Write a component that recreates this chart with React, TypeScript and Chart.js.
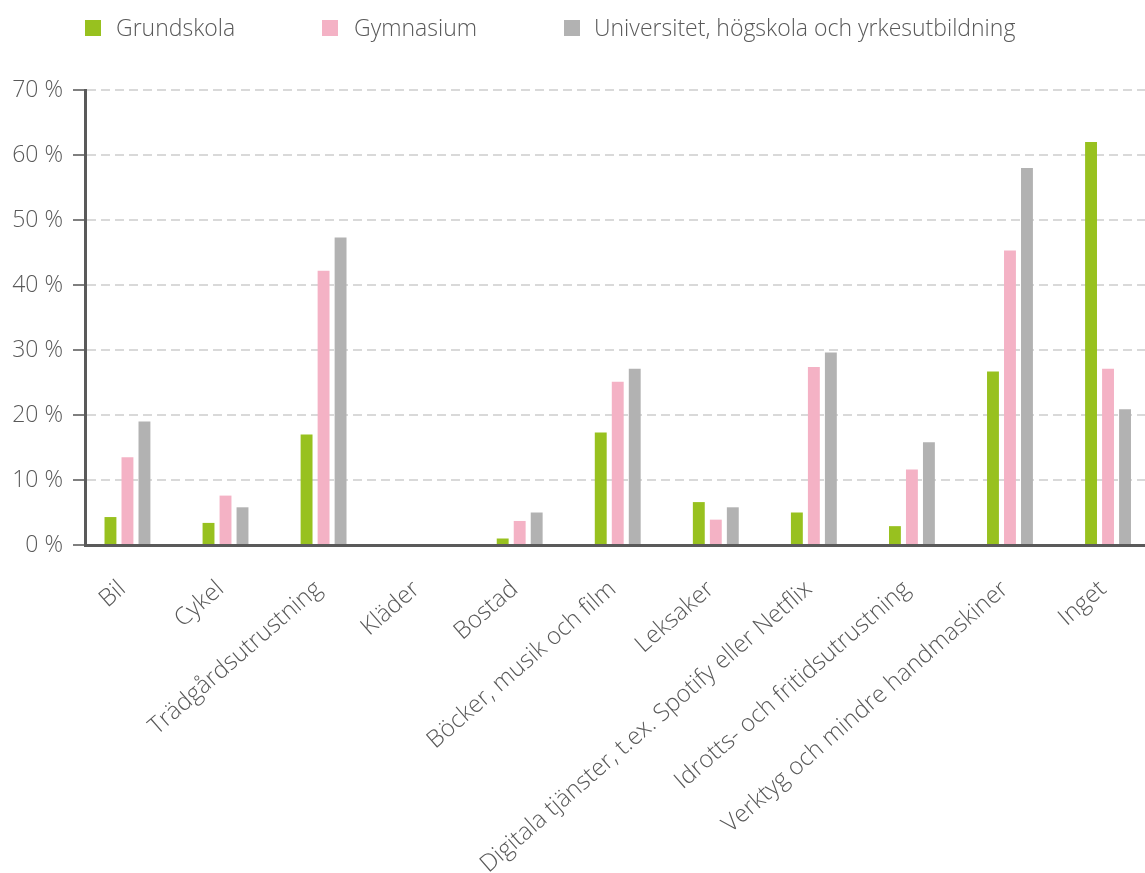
import React, { useEffect, useRef } from "react";
import { Chart, registerables } from "chart.js";

Chart.register(...registerables);

const categories = [
  "Bil",
  "Cykel",
  "Trädgårdsutrustning",
  "Kläder",
  "Bostad",
  "Böcker, musik och film",
  "Leksaker",
  "Digitala tjänster, t.ex. Spotify eller Netflix",
  "Idrotts- och fritidsutrustning",
  "Verktyg och mindre handmaskiner",
  "Inget",
];
const seriesNames = ["Grundskola", "Gymnasium", "Universitet, högskola och yrkesutbildning"];
const grundskola = [4.3, 3.4, 17.0, 0, 1.0, 17.3, 6.6, 5.0, 2.9, 26.7, 62.0];
const gymnasium = [13.5, 7.6, 42.2, 0, 3.7, 25.1, 3.9, 27.4, 11.6, 45.3, 27.1];
const universitet = [19.0, 5.8, 47.3, 0, 5.0, 27.1, 5.8, 29.6, 15.8, 58.0, 20.9];
const yMin = 0;
const yMax = 70;
const yStep = 10;

const colors = ["#98C11F", "#F4B2C5", "#B2B2B2"];
const textColor = "#595959";
const FONT = "'Open Sans', 'Noto Sans', sans-serif";

export default function App() {
  const ref = useRef<HTMLCanvasElement | null>(null);

  useEffect(() => {
    if (!ref.current) return;
    const allSeries = [grundskola, gymnasium, universitet];
    const chart = new Chart(ref.current, {
      type: "bar",
      data: {
        datasets: allSeries.map((vals, si) => ({
          label: seriesNames[si],
          data: vals.map((v, i) => ({ x: i, y: v })),
          backgroundColor: colors[si],
          borderWidth: 0,
          categoryPercentage: 0.52,
          barPercentage: 0.7,
        })),
      },
      options: {
        responsive: false,
        animation: false,
        maintainAspectRatio: false,
        layout: { padding: { top: 90, left: 0, right: 0, bottom: 0 } },
        plugins: {
          legend: { display: false },
          tooltip: { enabled: false },
        },
        scales: {
          x: {
            type: "linear",
            min: -0.433,
            max: 10.377,
            offset: false,
            grid: { display: false },
            border: { display: true, color: "#5a5a5a", width: 3 },
            afterBuildTicks: (scale: any) => {
              scale.ticks = scale.ticks.filter((t: any) => Number.isInteger(t.value) && t.value >= 0 && t.value < categories.length);
            },
            afterFit: (scale: any) => {
              scale.height = 873 - 545;
              scale.paddingLeft = 0;
              scale.paddingRight = 0;
            },
            ticks: {
              stepSize: 1,
              maxTicksLimit: 30,
              autoSkip: false,
              includeBounds: false,
              minRotation: 41,
              maxRotation: 41,
              padding: 22,
              labelOffset: -5,
              color: textColor,
              font: { family: FONT, size: 24, weight: "300" },
              callback: (v: any) => categories[v as number] ?? "",
            },
          },
          y: {
            min: yMin,
            max: yMax,
            afterFit: (scale: any) => {
              scale.width = 85;
            },
            grid: {
              color: (ctx: any) => (ctx.tick && ctx.tick.value === 0 ? "rgba(0,0,0,0)" : "#d9d9d9"),
              lineWidth: 2,
              tickColor: "#7f7f7f",
              tickLength: 12,
              tickWidth: 2,
              tickBorderDash: [],
            },
            border: { display: true, color: "#5a5a5a", width: 3, dash: [9, 5] },
            ticks: {
              stepSize: yStep,
              padding: 10,
              color: textColor,
              font: { family: FONT, size: 23, weight: "300" },
              callback: (v: any) => `${v} %`,
            },
          },
        },
      },
    });
    return () => chart.destroy();
  }, []);

  const boxX = [85, 322, 564];
  const textX = [116, 354, 594];
  return (
    <div style={{ position: "absolute", left: 0, top: 0, width: 1145, height: 873, overflow: "hidden", background: "#fff" }}>
      <canvas ref={ref} width={1145} height={873} style={{ position: "absolute", left: 0, top: 0 }} />
      {seriesNames.map((name, i) => (
        <React.Fragment key={name}>
          <span
            style={{ position: "absolute", left: boxX[i], top: 20, width: 16, height: 16, background: colors[i] }}
          />
          <span
            style={{
              position: "absolute",
              left: textX[i],
              top: 12,
              lineHeight: "30px",
              fontFamily: FONT,
              fontSize: 23,
              fontWeight: 300,
              color: textColor,
              whiteSpace: "nowrap",
            }}
          >
            {name}
          </span>
        </React.Fragment>
      ))}
    </div>
  );
}
